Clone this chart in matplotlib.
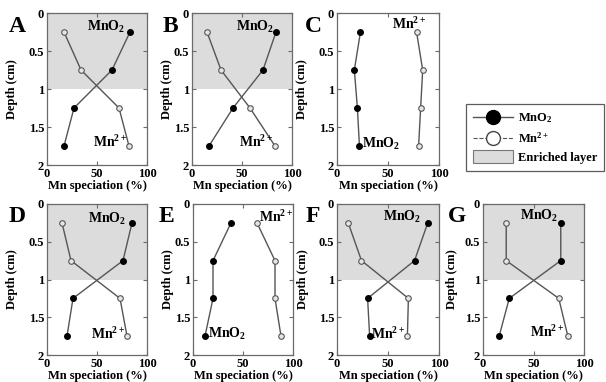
import matplotlib
matplotlib.use("Agg")
import matplotlib.pyplot as plt
from matplotlib.lines import Line2D
from matplotlib.patches import Patch, Rectangle
from matplotlib.legend_handler import HandlerPatch

plt.rcParams['font.family'] = ['Liberation Serif', 'DejaVu Serif']
plt.rcParams['font.weight'] = 'bold'
plt.rcParams['mathtext.fontset'] = 'custom'
plt.rcParams['mathtext.rm'] = 'Liberation Serif:bold'
plt.rcParams['mathtext.bf'] = 'Liberation Serif:bold'
plt.rcParams['mathtext.it'] = 'Liberation Serif:bold'
plt.rcParams['mathtext.default'] = 'bf'

# ---- data ----
panels = ["A", "B", "C", "D", "E", "F", "G"]
depth = [0.25, 0.75, 1.25, 1.75]
mno2 = {
    "A": [83, 65, 27, 17],
    "B": [84, 71, 41, 17],
    "C": [23, 17, 20, 22],
    "D": [85, 76, 26, 20],
    "E": [38, 20, 20, 12],
    "F": [89, 76, 30, 32],
    "G": [77, 77, 26, 16],
}
mn2 = {
    "A": [17, 34, 72, 82],
    "B": [15, 29, 58, 83],
    "C": [78, 84, 82, 80],
    "D": [15, 24, 73, 80],
    "E": [64, 82, 82, 88],
    "F": [11, 24, 70, 69],
    "G": [23, 23, 75, 84],
}
enriched = {"A": True, "B": True, "C": False, "D": True, "E": False, "F": True, "G": True}
xticks = [0, 50, 100]
xticklabels = ["0", "50", "100"]
yticks = [0, 0.5, 1, 1.5, 2]
yticklabels = ["0", "0.5", "1", "1.5", "2"]

# label placement (x, y, ha) for MnO2 and Mn2+ texts
lab_mno2 = {
    "A": (78, 0.19, "right"), "B": (82, 0.19, "right"), "C": (25, 1.72, "left"),
    "D": (79, 0.2, "right"), "E": (15, 1.72, "left"), "F": (82, 0.17, "right"),
    "G": (74, 0.16, "right"),
}
lab_mn2 = {
    "A": (80, 1.7, "right"), "B": (81, 1.7, "right"), "C": (54, 0.15, "left"),
    "D": (78, 1.72, "right"), "E": (66, 0.17, "left"), "F": (67, 1.72, "right"),
    "G": (81, 1.7, "right"),
}

W, H = 606, 382
fig = plt.figure(figsize=(W / 100, H / 100), dpi=100)

# axes boxes in pixels: left, top, width, height
boxes = {
    "A": (47, 13, 100, 152), "B": (192, 13, 100, 152), "C": (337, 13, 102, 152),
    "D": (47, 204, 100, 151), "E": (193, 204, 100, 151), "F": (337, 204, 102, 151),
    "G": (483, 204, 101, 151),
}
letter_pos = {"A": 17, "B": 170, "C": 313, "D": 17, "E": 166, "F": 313, "G": 457}
ylabel_off = {"A": 29, "B": 19, "C": 29, "D": 29, "E": 19, "F": 28, "G": 25}

line_col = "#555555"
spine_col = "#6a6a6a"
shade_col = "#dcdcdc"

for p in panels:
    l, t, w, h = boxes[p]
    ax = fig.add_axes([l / W, (H - t - h) / H, w / W, h / H])
    if enriched[p]:
        ax.axhspan(0, 1, color=shade_col, zorder=0, lw=0)
    ax.plot(mno2[p], depth, '-', color=line_col, lw=1, marker='o', ms=4,
            mfc='black', mec='black', zorder=3)
    ax.plot(mn2[p], depth, '-', color=line_col, lw=1, marker='o', ms=4,
            mfc='#e6e6e6', mec='#555555', mew=0.8, zorder=3)
    ax.set_xlim(0, 100)
    ax.set_ylim(2, 0)
    ax.set_xticks(xticks)
    ax.set_xticklabels(xticklabels)
    ax.set_yticks(yticks)
    ax.set_yticklabels(yticklabels)
    ax.tick_params(direction='in', top=True, right=True, length=3, width=0.8,
                   color=spine_col, labelsize=9, pad=2)
    for s in ax.spines.values():
        s.set_color(spine_col)
        s.set_linewidth(0.9)
    ax.set_xlabel("Mn speciation (%)", fontsize=9, fontweight='bold', labelpad=0)
    ax.set_ylabel("Depth (cm)", fontsize=9, fontweight='bold')
    ax.yaxis.set_label_coords(-ylabel_off[p] / w, 0.5)
    x, y, ha = lab_mno2[p]
    ax.text(x, y, "MnO$_2$", ha=ha, va='center', fontsize=10, fontweight='bold')
    x, y, ha = lab_mn2[p]
    ax.text(x, y, "Mn$^{2+}$", ha=ha, va='center', fontsize=10, fontweight='bold')
    fig.text(letter_pos[p] / W, 1 - (t + 13) / H, p, ha='center', va='center',
             fontsize=17, fontweight='bold')


class TallPatch(HandlerPatch):
    def create_artists(self, legend, orig_handle, xdescent, ydescent,
                       width, height, fontsize, trans):
        r = Rectangle((-xdescent, -ydescent - 0.25 * height), width, height * 1.5,
                      facecolor=orig_handle.get_facecolor(),
                      edgecolor=orig_handle.get_edgecolor(),
                      lw=orig_handle.get_linewidth(), transform=trans)
        return [r]


handles = [
    Line2D([], [], color=line_col, lw=1, ls='-', marker='o', ms=10,
           mfc='black', mec='black'),
    Line2D([], [], color=line_col, lw=0.8, ls='--', marker='o', ms=10,
           mfc='white', mec='#444444'),
    Patch(facecolor=shade_col, edgecolor='#777777', lw=0.8),
]
labels = ["MnO$_2$", "Mn$^{2+}$", "Enriched layer"]
leg = fig.legend(handles, labels, loc='upper left',
                 bbox_to_anchor=(466 / W, 1 - 104 / H),
                 frameon=True, fancybox=False, edgecolor='#333333',
                 fontsize=9, handlelength=3.2, handletextpad=0.4,
                 labelspacing=0.5, borderpad=0.55, borderaxespad=0,
                 handler_map={Patch: TallPatch()})
leg.get_frame().set_linewidth(0.9)
for txt in leg.get_texts():
    txt.set_fontweight('bold')

fig.savefig("out.png", dpi=100)
